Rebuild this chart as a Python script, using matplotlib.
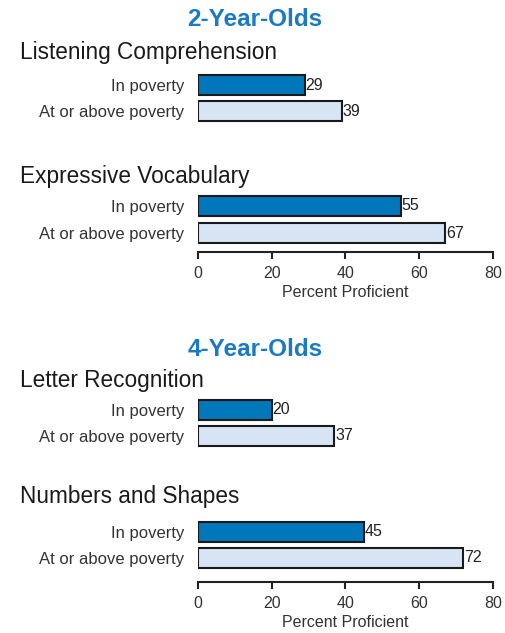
import matplotlib.pyplot as plt

plt.rcParams['font.family'] = ['Liberation Sans', 'DejaVu Sans']

# data
groups = ['In poverty', 'At or above poverty']
listening = [29, 39]
vocabulary = [55, 67]
letters = [20, 37]
numbers = [45, 72]
xticks = [0, 20, 40, 60, 80]

dark = '#0077bb'
light = '#d7e4f4'
title_blue = '#1a7bc4'

W, H = 506, 633
fig = plt.figure(figsize=(W / 100, H / 100), dpi=100)


def fy(py):
    return 1 - py / H


def panel(vals, c0, c1, bottom_px, show_axis):
    u = c1 - c0
    top_px = c0 - 0.6 * u
    x0, x1 = 198, 493
    ax = fig.add_axes([x0 / W, fy(bottom_px), (x1 - x0) / W, (bottom_px - top_px) / H])
    ax.barh([0, 1], vals, height=0.76, color=[dark, light],
            edgecolor='#1a1a1a', linewidth=1.5, zorder=3)
    for i, v in enumerate(vals):
        ax.text(v + 0.2, i, str(v), va='center', ha='left', fontsize=11.5, color='#222222')
    ax.set_xlim(0, 80)
    ax.set_ylim(1 + (bottom_px - c1) / u, -0.6)
    ax.set_yticks([0, 1])
    ax.set_yticklabels(groups, fontsize=12, color='#333333')
    ax.tick_params(axis='y', length=0, pad=10)
    for s in ['top', 'right', 'left']:
        ax.spines[s].set_visible(False)
    if show_axis:
        ax.spines['bottom'].set_linewidth(1.5)
        ax.spines['bottom'].set_color('#222222')
        ax.set_xticks(xticks)
        ax.tick_params(axis='x', direction='out', length=5, width=1.5,
                       labelsize=11.5, labelcolor='#333333', pad=5, color='#222222')
        ax.set_xlabel('Percent Proficient', fontsize=11.5, color='#333333', labelpad=3)
    else:
        ax.spines['bottom'].set_visible(False)
        ax.set_xticks([])
    ax.patch.set_alpha(0)
    return ax


fig.text(255 / W, fy(19), '2-Year-Olds', ha='center', va='center',
         fontsize=17.5, fontweight='bold', color=title_blue)
fig.text(20 / W, fy(52), 'Listening Comprehension', ha='left', va='center',
         fontsize=16.3, color='#1a1a1a')
panel(listening, 85, 111, 128, False)

fig.text(20 / W, fy(176), 'Expressive Vocabulary', ha='left', va='center',
         fontsize=16.3, color='#1a1a1a')
panel(vocabulary, 206, 233, 252, True)

fig.text(255 / W, fy(349), '4-Year-Olds', ha='center', va='center',
         fontsize=17.5, fontweight='bold', color=title_blue)
fig.text(20 / W, fy(380), 'Letter Recognition', ha='left', va='center',
         fontsize=16.3, color='#1a1a1a')
panel(letters, 410, 436, 453, False)

fig.text(20 / W, fy(497), 'Numbers and Shapes', ha='left', va='center',
         fontsize=16.3, color='#1a1a1a')
panel(numbers, 532, 558, 582, True)

fig.savefig('out.png', dpi=100)
